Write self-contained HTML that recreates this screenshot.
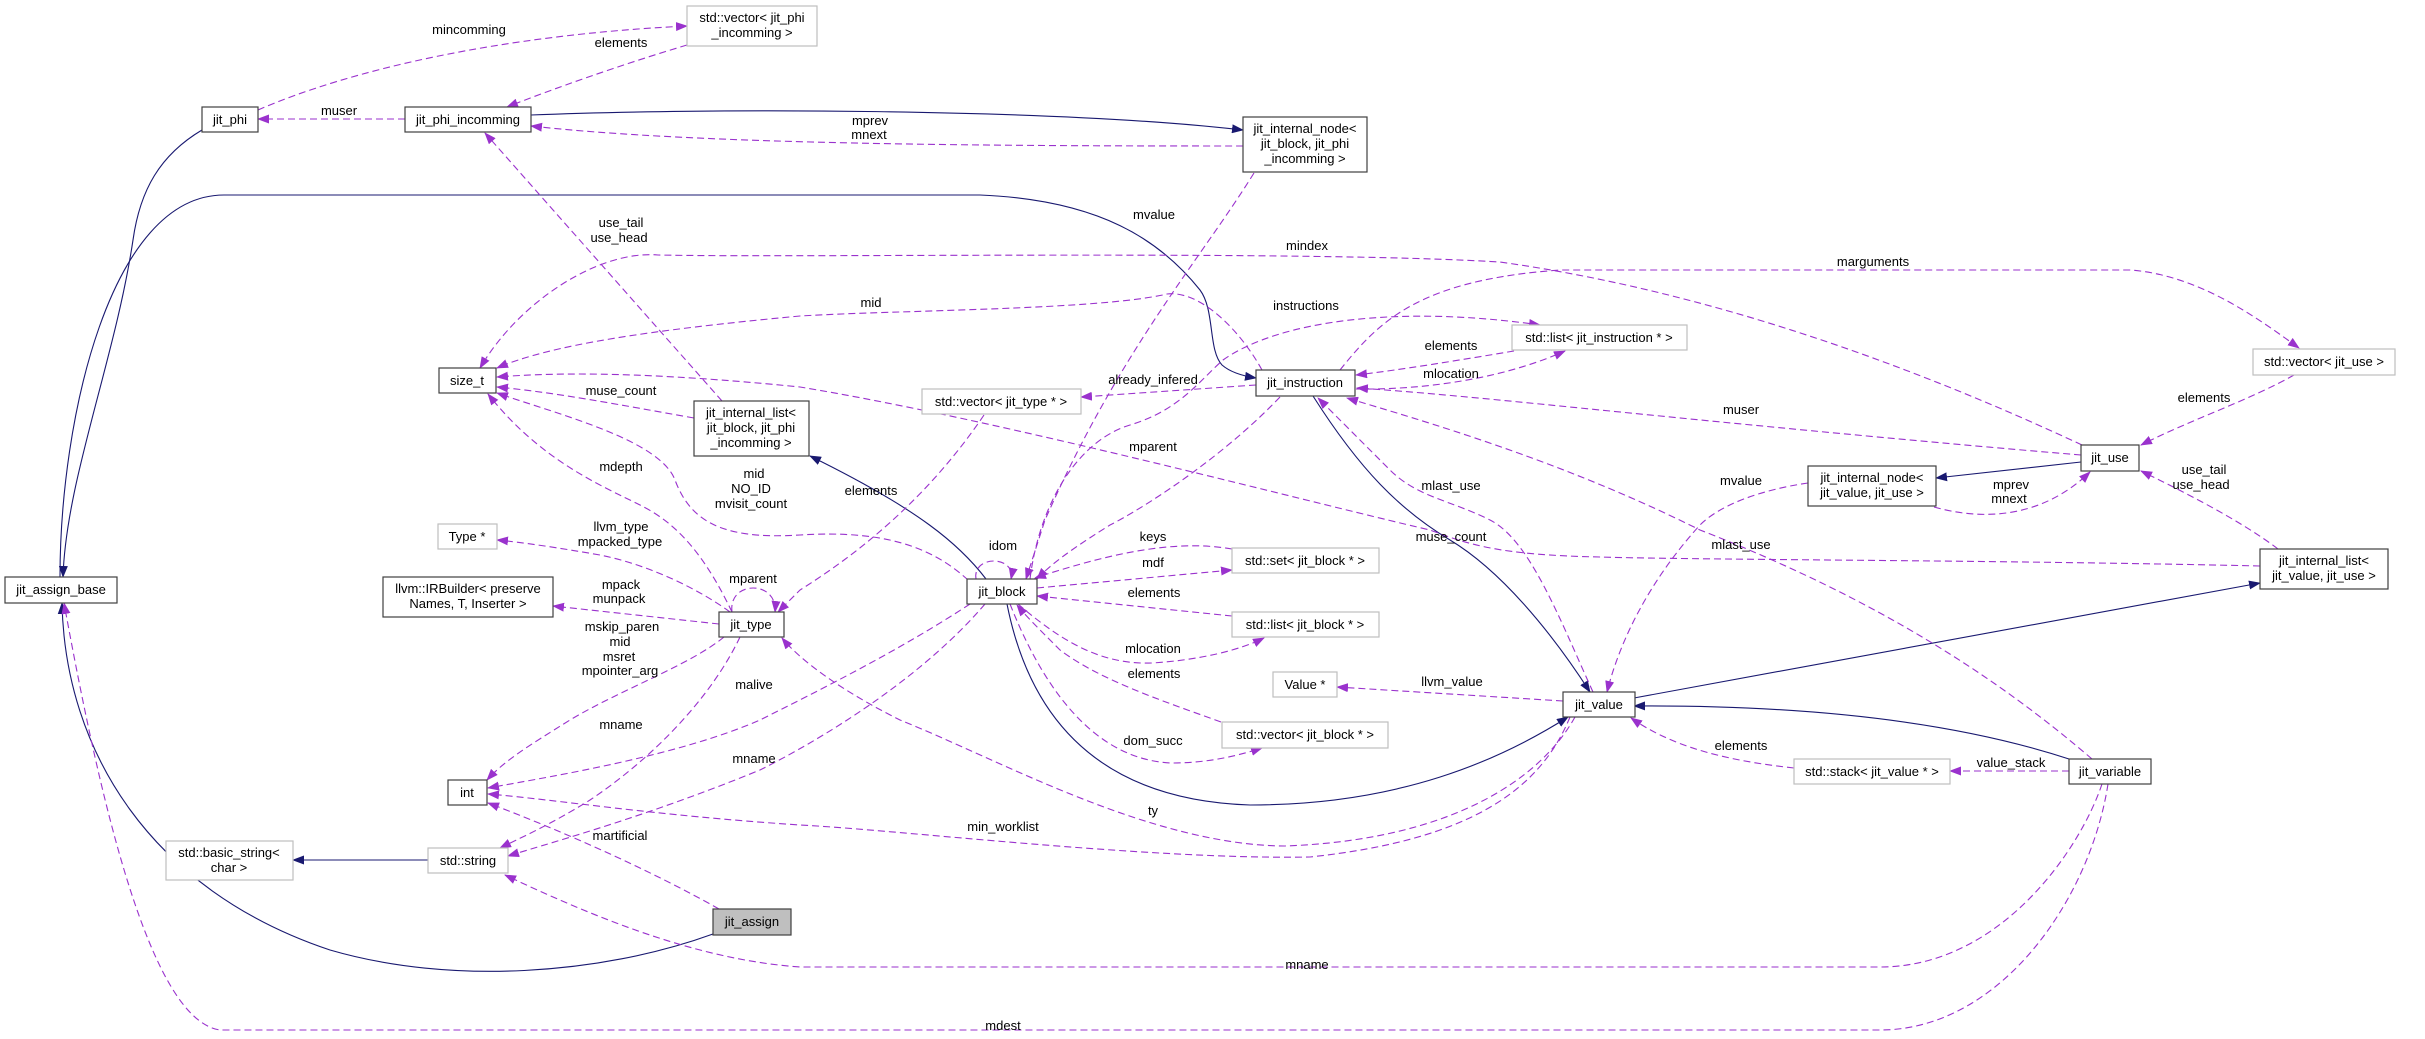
<!DOCTYPE html>
<html><head><meta charset="utf-8"><style>
html,body{margin:0;padding:0;background:#fff;}
svg{display:block;}
text{font-family:"Liberation Sans",Arial,sans-serif;font-size:13px;fill:#000;}
.n{fill:#fff;stroke:#404040;stroke-width:1.2;}
.g{fill:#fff;stroke:#bfbfbf;stroke-width:1.2;}
.d{fill:none;stroke:#9a32cd;stroke-width:1.1;stroke-dasharray:7,4;marker-end:url(#pa);}
.s{fill:none;stroke:#191970;stroke-width:1.1;marker-end:url(#na);}
.sn{fill:none;stroke:#191970;stroke-width:1.1;}
</style></head><body>
<svg width="2425" height="1039" viewBox="0 0 2425 1039" xmlns="http://www.w3.org/2000/svg">
<defs>
<marker id="pa" markerWidth="12" markerHeight="9" refX="11" refY="4.5" orient="auto" markerUnits="userSpaceOnUse"><path d="M0,0 L12,4.5 L0,9 Z" fill="#9a32cd"/></marker>
<marker id="na" markerWidth="12" markerHeight="9" refX="11" refY="4.5" orient="auto" markerUnits="userSpaceOnUse"><path d="M0,0 L12,4.5 L0,9 Z" fill="#191970"/></marker>
</defs>

<!-- solid edges -->
<path class="s" d="M202,130 C160,155 140,190 133,240 C115,360 66,480 63,577"/>
<path class="s" d="M60,577 C62,420 110,298 224,298 L980,298 C1100,300 1160,360 1205,430 C1215,460 1208,520 1222,550 C1230,565 1243,572 1256,376" style="display:none"/>
<path class="s" d="M60,577 C60,420 110,195 224,195 L980,195 C1100,200 1160,240 1200,290 C1215,310 1208,350 1222,365 C1230,372 1243,376 1256,378"/>
<path class="s" d="M531,115 C700,108 1050,108 1243,130"/>
<path class="s" d="M986,579 C960,545 920,510 810,456"/>
<path class="s" d="M1313,396 C1360,470 1400,510 1450,540 C1500,570 1550,630 1590,692"/>
<path class="s" d="M1007,604 C1030,720 1100,800 1250,805 C1400,805 1500,760 1568,717"/>
<path class="s" d="M1634,698 L2260,583"/>
<path class="s" d="M2069,759 C1950,720 1800,705 1634,706"/>
<path class="s" d="M2081,462 L1936,478"/>
<path class="s" d="M428,860 L293,860"/>
<path class="s" d="M713,934 C600,975 450,985 330,950 C150,890 65,750 62,603"/>

<!-- dashed edges -->
<path class="d" d="M258,110 C350,70 500,35 687,26"/>
<path class="d" d="M687,45 C620,65 550,90 507,107"/>
<path class="d" d="M405,119 L258,119"/>
<path class="d" d="M1243,146 C1000,146 700,145 531,126"/>
<path class="d" d="M722,401 L485,133"/>
<path class="d" d="M2082,445 C1900,360 1700,290 1500,262 C1300,250 800,258 658,255 C600,250 520,300 480,368"/>
<path class="d" d="M1262,370 C1240,330 1200,290 1167,294 C1100,310 900,310 800,316 C650,330 550,345 497,368"/>
<path class="d" d="M694,418 C620,405 560,393 497,387"/>
<path class="d" d="M2260,566 C2000,560 1700,560 1600,557 C1500,555 1470,545 1430,530 C1300,500 1000,420 800,387 C650,372 560,372 497,377"/>
<path class="d" d="M1030,579 C1040,500 1080,440 1130,425 C1180,410 1200,380 1223,360 C1280,320 1400,305 1540,325"/>
<path class="d" d="M1514,351 C1460,360 1400,370 1356,375"/>
<path class="d" d="M1356,389 C1420,390 1500,380 1565,351"/>
<path class="d" d="M2081,455 C1900,440 1700,420 1600,410 C1500,400 1420,392 1357,388"/>
<path class="d" d="M1340,370 C1380,320 1420,280 1560,270 L2130,270 C2200,275 2260,320 2299,348"/>
<path class="d" d="M2294,375 C2250,400 2190,420 2141,445"/>
<path class="d" d="M1934,507 C1980,520 2040,520 2090,472"/>
<path class="d" d="M2278,549 C2240,520 2180,490 2141,471"/>
<path class="d" d="M2069,771 L1950,771"/>
<path class="d" d="M1794,768 C1720,760 1670,745 1631,718"/>
<path class="d" d="M2092,759 C2000,680 1880,600 1700,530 C1560,460 1420,420 1347,398"/>
<path class="d" d="M1593,692 C1560,620 1530,540 1490,520 C1450,500 1417,497 1390,470 C1360,440 1340,420 1318,398"/>
<path class="d" d="M1808,483 C1760,490 1720,505 1700,525 C1650,580 1620,640 1607,692"/>
<path class="d" d="M1563,701 L1337,687"/>
<path class="d" d="M1254,173 C1200,260 1120,350 1045,520 L1026,579"/>
<path class="d" d="M1256,385 L1081,397"/>
<path class="d" d="M984,415 C940,480 880,540 800,590 L778,612"/>
<path class="d" d="M1280,397 C1220,460 1140,510 1110,525 C1070,550 1050,565 1037,579"/>
<path class="d" d="M968,580 C930,545 880,530 800,535 C720,540 690,520 675,480 C660,440 560,415 497,393"/>
<path class="d" d="M732,612 C700,545 670,520 640,505 C600,485 540,460 488,394"/>
<path class="d" d="M730,612 C700,590 650,565 600,555 C560,548 520,542 497,540"/>
<path class="d" d="M719,624 L553,606"/>
<path class="d" d="M732,612 C728,580 778,580 775,612"/>
<path class="d" d="M724,637 C690,665 620,690 570,720 C530,745 505,760 487,780"/>
<path class="d" d="M970,604 C900,650 820,690 760,720 C680,755 560,775 488,788"/>
<path class="d" d="M1570,717 C1540,790 1470,840 1310,857 C1150,860 900,830 800,825 C650,815 560,800 488,794"/>
<path class="d" d="M719,909 C650,870 560,830 488,803"/>
<path class="d" d="M740,637 C710,700 650,760 590,800 C550,825 520,838 500,848"/>
<path class="d" d="M985,604 C920,680 820,740 760,770 C650,815 560,840 508,856"/>
<path class="d" d="M2102,784 C2080,850 2000,967 1880,967 L800,967 C700,960 600,920 505,875"/>
<path class="d" d="M2108,784 C2090,900 2000,1030 1880,1030 L220,1030 C150,1020 100,800 64,603"/>
<path class="d" d="M1232,549 C1180,540 1120,550 1035,578"/>
<path class="d" d="M1037,588 L1232,570"/>
<path class="d" d="M1232,616 L1037,596"/>
<path class="d" d="M1018,604 C1060,640 1100,665 1152,663 C1200,660 1240,650 1264,638"/>
<path class="d" d="M1221,722 C1160,700 1100,680 1060,650 C1040,630 1025,615 1017,605"/>
<path class="d" d="M1010,604 C1040,680 1090,760 1172,763 C1210,763 1240,755 1262,748"/>
<path class="d" d="M976,579 C972,555 1016,555 1011,579"/>
<path class="d" d="M1575,717 C1540,780 1450,840 1285,846 C1150,845 1000,760 900,720 C840,690 800,660 782,638"/>

<!-- nodes -->
<rect class="g" x="687" y="6" width="130" height="40"/><text x="752" y="22" text-anchor="middle">std::vector&lt; jit_phi</text><text x="752" y="37" text-anchor="middle">_incomming &gt;</text>
<rect class="n" x="202" y="107" width="56" height="25"/><text x="230" y="124" text-anchor="middle">jit_phi</text>
<rect class="n" x="405" y="107" width="126" height="25"/><text x="468" y="124" text-anchor="middle">jit_phi_incomming</text>
<rect class="n" x="1243" y="117" width="124" height="55"/><text x="1305" y="133" text-anchor="middle">jit_internal_node&lt;</text><text x="1305" y="148" text-anchor="middle">jit_block, jit_phi</text><text x="1305" y="163" text-anchor="middle">_incomming &gt;</text>
<rect class="n" x="439" y="368" width="57" height="25"/><text x="467" y="385" text-anchor="middle">size_t</text>
<rect class="n" x="694" y="401" width="115" height="55"/><text x="751" y="417" text-anchor="middle">jit_internal_list&lt;</text><text x="751" y="432" text-anchor="middle">jit_block, jit_phi</text><text x="751" y="447" text-anchor="middle">_incomming &gt;</text>
<rect class="n" x="5" y="577" width="112" height="26"/><text x="61" y="594" text-anchor="middle">jit_assign_base</text>
<rect class="g" x="438" y="524" width="59" height="25"/><text x="467" y="541" text-anchor="middle">Type *</text>
<rect class="n" x="383" y="577" width="170" height="40"/><text x="468" y="593" text-anchor="middle">llvm::IRBuilder&lt; preserve</text><text x="468" y="608" text-anchor="middle">Names, T, Inserter &gt;</text>
<rect class="n" x="719" y="612" width="65" height="25"/><text x="751" y="629" text-anchor="middle">jit_type</text>
<rect class="n" x="448" y="780" width="39" height="25"/><text x="467" y="797" text-anchor="middle">int</text>
<rect class="g" x="166" y="841" width="127" height="39"/><text x="229" y="857" text-anchor="middle">std::basic_string&lt;</text><text x="229" y="872" text-anchor="middle">char &gt;</text>
<rect class="g" x="428" y="848" width="80" height="25"/><text x="468" y="865" text-anchor="middle">std::string</text>
<rect x="713" y="909" width="78" height="26" fill="#bfbfbf" stroke="#404040" stroke-width="1.2"/><text x="752" y="926" text-anchor="middle">jit_assign</text>
<rect class="g" x="922" y="389" width="159" height="25"/><text x="1001" y="406" text-anchor="middle">std::vector&lt; jit_type * &gt;</text>
<rect class="n" x="1256" y="370" width="99" height="26"/><text x="1305" y="387" text-anchor="middle">jit_instruction</text>
<rect class="g" x="1512" y="325" width="175" height="25"/><text x="1599" y="342" text-anchor="middle">std::list&lt; jit_instruction * &gt;</text>
<rect class="g" x="2253" y="349" width="142" height="26"/><text x="2324" y="366" text-anchor="middle">std::vector&lt; jit_use &gt;</text>
<rect class="n" x="2081" y="445" width="58" height="26"/><text x="2110" y="462" text-anchor="middle">jit_use</text>
<rect class="n" x="1808" y="466" width="128" height="40"/><text x="1872" y="482" text-anchor="middle">jit_internal_node&lt;</text><text x="1872" y="497" text-anchor="middle">jit_value, jit_use &gt;</text>
<rect class="n" x="967" y="579" width="70" height="25"/><text x="1002" y="596" text-anchor="middle">jit_block</text>
<rect class="g" x="1232" y="548" width="147" height="25"/><text x="1305" y="565" text-anchor="middle">std::set&lt; jit_block * &gt;</text>
<rect class="g" x="1232" y="612" width="147" height="25"/><text x="1305" y="629" text-anchor="middle">std::list&lt; jit_block * &gt;</text>
<rect class="g" x="1273" y="672" width="64" height="25"/><text x="1305" y="689" text-anchor="middle">Value *</text>
<rect class="g" x="1222" y="722" width="166" height="26"/><text x="1305" y="739" text-anchor="middle">std::vector&lt; jit_block * &gt;</text>
<rect class="n" x="1563" y="692" width="72" height="25"/><text x="1599" y="709" text-anchor="middle">jit_value</text>
<rect class="n" x="2260" y="549" width="128" height="40"/><text x="2324" y="565" text-anchor="middle">jit_internal_list&lt;</text><text x="2324" y="580" text-anchor="middle">jit_value, jit_use &gt;</text>
<rect class="g" x="1794" y="759" width="156" height="25"/><text x="1872" y="776" text-anchor="middle">std::stack&lt; jit_value * &gt;</text>
<rect class="n" x="2069" y="759" width="82" height="25"/><text x="2110" y="776" text-anchor="middle">jit_variable</text>

<!-- labels -->
<g text-anchor="middle">
<text x="469" y="34">mincomming</text>
<text x="621" y="47">elements</text>
<text x="339" y="115">muser</text>
<text x="621" y="227">use_tail</text><text x="619" y="242">use_head</text>
<text x="621" y="395">muse_count</text>
<text x="621" y="471">mdepth</text>
<text x="754" y="478">mid</text><text x="751" y="493">NO_ID</text><text x="751" y="508">mvisit_count</text>
<text x="870" y="125">mprev</text><text x="869" y="139">mnext</text>
<text x="1154" y="219">mvalue</text>
<text x="1307" y="250">mindex</text>
<text x="871" y="307">mid</text>
<text x="1306" y="310">instructions</text>
<text x="1451" y="350">elements</text>
<text x="1451" y="378">mlocation</text>
<text x="1153" y="384">already_infered</text>
<text x="1153" y="451">mparent</text>
<text x="1451" y="490">mlast_use</text>
<text x="871" y="495">elements</text>
<text x="1873" y="266">marguments</text>
<text x="1741" y="414">muser</text>
<text x="2204" y="402">elements</text>
<text x="1741" y="485">mvalue</text>
<text x="2011" y="489">mprev</text><text x="2009" y="503">mnext</text>
<text x="2204" y="474">use_tail</text><text x="2201" y="489">use_head</text>
<text x="621" y="531">llvm_type</text><text x="620" y="546">mpacked_type</text>
<text x="753" y="583">mparent</text>
<text x="621" y="589">mpack</text><text x="619" y="603">munpack</text>
<text x="622" y="631">mskip_paren</text><text x="620" y="646">mid</text><text x="619" y="661">msret</text><text x="620" y="675">mpointer_arg</text>
<text x="754" y="689">malive</text>
<text x="621" y="729">mname</text>
<text x="754" y="763">mname</text>
<text x="620" y="840">martificial</text>
<text x="1003" y="550">idom</text>
<text x="1153" y="541">keys</text>
<text x="1153" y="567">mdf</text>
<text x="1154" y="597">elements</text>
<text x="1153" y="653">mlocation</text>
<text x="1154" y="678">elements</text>
<text x="1153" y="745">dom_succ</text>
<text x="1452" y="686">llvm_value</text>
<text x="1451" y="541">muse_count</text>
<text x="1153" y="815">ty</text>
<text x="1003" y="831">min_worklist</text>
<text x="1307" y="969">mname</text>
<text x="1003" y="1030">mdest</text>
<text x="1741" y="549">mlast_use</text>
<text x="1741" y="750">elements</text>
<text x="2011" y="767">value_stack</text>
</g>
</svg>
</body></html>
